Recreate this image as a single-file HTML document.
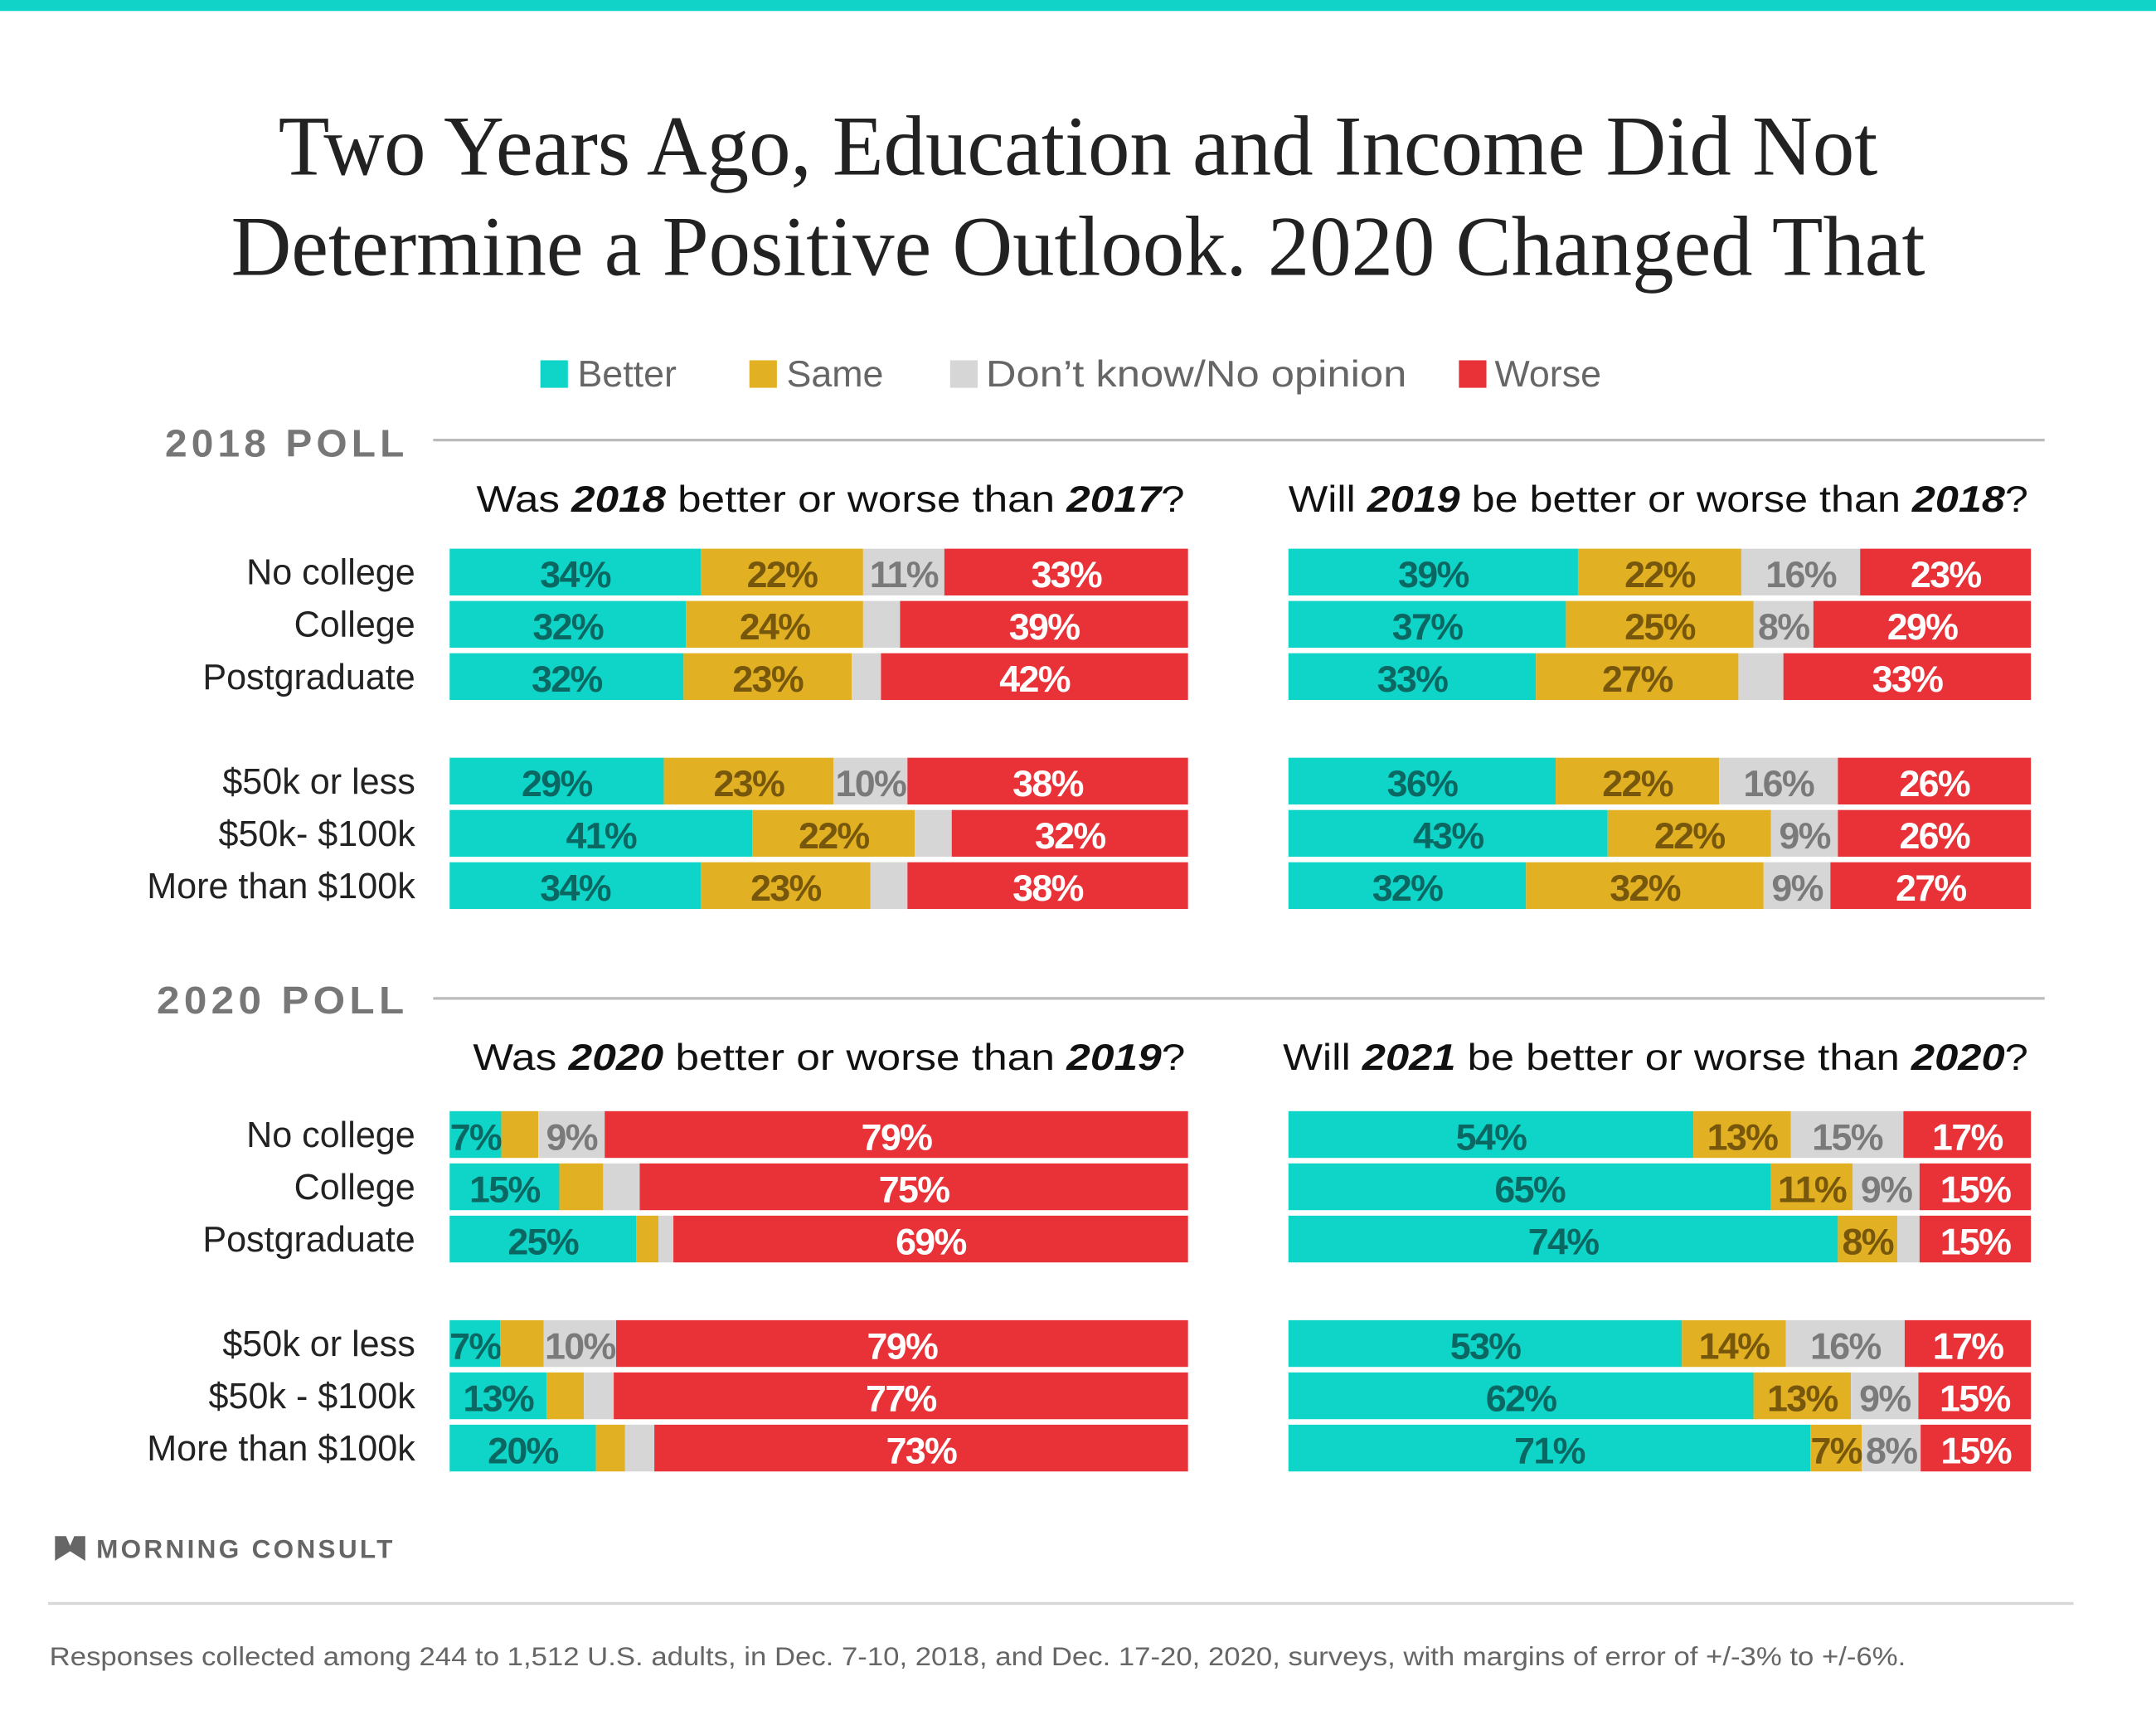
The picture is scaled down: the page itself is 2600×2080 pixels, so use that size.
<!DOCTYPE html>
<html><head><meta charset="utf-8">
<style>
html,body{margin:0;padding:0;background:#fff;width:2600px;height:2080px;overflow:hidden}
#wrap{width:1568px;height:1254px;transform:scale(1.6582);transform-origin:0 0}
svg{display:block}
</style></head>
<body>
<div id="wrap">
<svg id="chart" width="1568" height="1254" viewBox="0 0 1568 1254" xmlns="http://www.w3.org/2000/svg" font-family="Liberation Sans, sans-serif">
<rect x="0" y="0" width="1568" height="8" fill="#12d3c8"/>
<g font-family="Liberation Serif, serif" fill="#222" font-size="62" text-anchor="middle">
<text x="784" y="127" textLength="1163" lengthAdjust="spacingAndGlyphs">Two Years Ago, Education and Income Did Not</text>
<text x="784" y="200" textLength="1232" lengthAdjust="spacingAndGlyphs">Determine a Positive Outlook. 2020 Changed That</text>
</g>
<g font-size="27" fill="#666">
<g><rect x="393" y="262" width="20" height="20" fill="#0fd5c9"/><text x="420" y="281">Better</text></g>
<g><rect x="545" y="262" width="20" height="20" fill="#e2b023"/><text x="572" y="281">Same</text></g>
<g><rect x="691" y="262" width="20" height="20" fill="#d6d6d6"/><text x="717" y="281" textLength="306" lengthAdjust="spacingAndGlyphs">Don’t know/No opinion</text></g>
<g><rect x="1061" y="262" width="20" height="20" fill="#e83238"/><text x="1087" y="281">Worse</text></g>
</g>
<g font-size="28" font-weight="bold" fill="#777" letter-spacing="3">
<text x="120" y="332" textLength="177" lengthAdjust="spacingAndGlyphs">2018 POLL</text>
<line x1="315" y1="320" x2="1487" y2="320" stroke="#bbb" stroke-width="2"/>
<text x="114" y="737" textLength="183" lengthAdjust="spacingAndGlyphs">2020 POLL</text>
<line x1="315" y1="726" x2="1487" y2="726" stroke="#bbb" stroke-width="2"/>
</g>
<g font-size="27" fill="#111" text-anchor="middle">
<text x="604" y="372" textLength="515" lengthAdjust="spacingAndGlyphs">Was <tspan font-weight="bold" font-style="italic">2018</tspan> better or worse than <tspan font-weight="bold" font-style="italic">2017</tspan>?</text>
<text x="1206" y="372" textLength="538" lengthAdjust="spacingAndGlyphs">Will <tspan font-weight="bold" font-style="italic">2019</tspan> be better or worse than <tspan font-weight="bold" font-style="italic">2018</tspan>?</text>
<text x="603" y="778" textLength="518" lengthAdjust="spacingAndGlyphs">Was <tspan font-weight="bold" font-style="italic">2020</tspan> better or worse than <tspan font-weight="bold" font-style="italic">2019</tspan>?</text>
<text x="1204" y="778" textLength="542" lengthAdjust="spacingAndGlyphs">Will <tspan font-weight="bold" font-style="italic">2021</tspan> be better or worse than <tspan font-weight="bold" font-style="italic">2020</tspan>?</text>
</g>
<g id="bars"></g>
<g>
<path d="M40 1117 L48 1117 L51 1124 L54 1117 L62 1117 L62 1135 L51 1128 L40 1135 Z" fill="#666"/>
<text x="70" y="1133" font-size="19" font-weight="bold" fill="#666" letter-spacing="2">MORNING CONSULT</text>
</g>
<line x1="35" y1="1166" x2="1508" y2="1166" stroke="#d8d8d8" stroke-width="2"/>
<text x="36" y="1211" font-size="19" fill="#666" textLength="1350" lengthAdjust="spacingAndGlyphs">Responses collected among 244 to 1,512 U.S. adults, in Dec. 7-10, 2018, and Dec. 17-20, 2020, surveys, with margins of error of +/-3% to +/-6%.</text>
</svg>
</div>
<script>
const categories = ["No college","College","Postgraduate","$50k or less","$50k- $100k","More than $100k"];
const categories2020 = ["No college","College","Postgraduate","$50k or less","$50k - $100k","More than $100k"];
const seriesNames = ["Better","Same","Don't know/No opinion","Worse"];
// each row: [better, same, dontKnow, worse]
const p2018Past = [[34,22,11,33],[32,24,5,39],[32,23,4,42],[29,23,10,38],[41,22,5,32],[34,23,5,38]];
const p2018Next = [[39,22,16,23],[37,25,8,29],[33,27,6,33],[36,22,16,26],[43,22,9,26],[32,32,9,27]];
const p2020Past = [[7,5,9,79],[15,6,5,75],[25,3,2,69],[7,6,10,79],[13,5,4,77],[20,4,4,73]];
const p2020Next = [[54,13,15,17],[65,11,9,15],[74,8,3,15],[53,14,16,17],[62,13,9,15],[71,7,8,15]];
const minLabel = 7;

const NS = "http://www.w3.org/2000/svg";
const fills = ["#0fd5c9","#e2b023","#d6d6d6","#e83238"];
const labelColors = ["#0b6762","#76570c","#7a7a7a","#ffffff"];
const root = document.getElementById("bars");
function rowY(top, i){ return top + (i<3 ? i*38 : 152 + (i-3)*38); }
function mk(tag, attrs){ const e=document.createElementNS(NS,tag); for(const k in attrs) e.setAttribute(k,attrs[k]); return e; }
function panel(data, x0, width, top, name, labels){
  const g = mk("g",{});
  
  
  root.appendChild(g);
  data.forEach((row, i) => {
    const y = rowY(top, i);
    const total = row.reduce((a,b)=>a+b,0);
    const xs = v => x0 + v/total*width;
    if(labels){
      const t = mk("text",{x:302,y:y+26,"text-anchor":"end","font-size":26,fill:"#222"});
      
      
      t.textContent = labels[i];
      g.appendChild(t);
    }
    let cum = 0;
    row.forEach((v, s) => {
      const xa = xs(cum), xb = xs(cum+v);
      const r = mk("rect",{x:xa,y:y,width:Math.max(0,xb-xa),height:34,fill:fills[s]});
      
      
      g.appendChild(r);
      if(v >= minLabel){
        const t = mk("text",{x:(xa+xb)/2,y:y+28,"text-anchor":"middle","font-size":27,"font-weight":"bold",fill:labelColors[s],"letter-spacing":"-1"});
        
        
        t.textContent = v + "%";
        g.appendChild(t);
      }
      cum += v;
    });
  });
}
panel(p2018Past, 327, 537, 399, "panel-2018-vs-2017", categories);
panel(p2018Next, 937, 540, 399, "panel-2019-vs-2018", null);
panel(p2020Past, 327, 537, 808, "panel-2020-vs-2019", categories2020);
panel(p2020Next, 937, 540, 808, "panel-2021-vs-2020", null);
</script>
</body></html>
